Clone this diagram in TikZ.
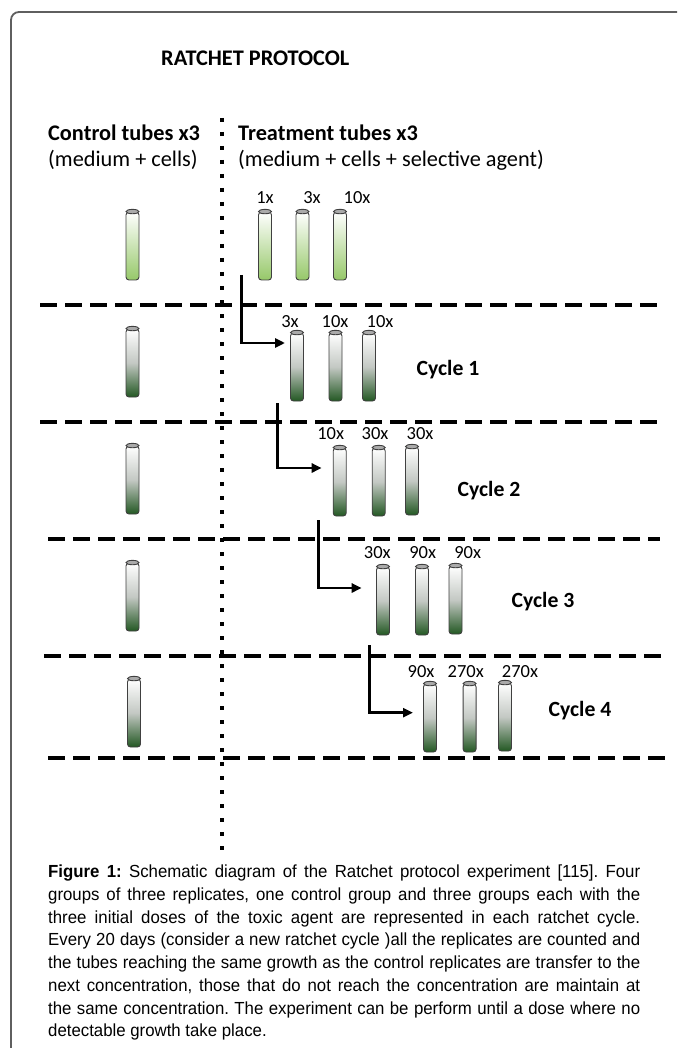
\documentclass[tikz,border=0pt]{standalone}
\usepackage{fontspec}
\setmainfont{Carlito}
\newfontfamily\capfont[FakeStretch=0.96]{Liberation Sans}
\usetikzlibrary{arrows.meta}
\definecolor{framegray}{RGB}{95,95,95}
\definecolor{lightgreen}{RGB}{150,200,105}
\definecolor{darkgreen}{RGB}{35,88,35}
\definecolor{midgray}{RGB}{195,200,195}
\definecolor{capgray}{RGB}{170,170,170}
\tikzset{
  tubebase/.style={draw=black!75, line width=0.9pt, minimum width=13pt, minimum height=68pt, inner sep=0pt, rounded corners=3pt},
  tubelight/.style={tubebase, top color=white, bottom color=lightgreen},
  tubedark/.style={tubebase, top color=white, bottom color=darkgreen, middle color=midgray},
  tubecap/.style={draw=black!75, line width=0.9pt, fill=capgray},
  headb/.style={font=\bfseries\fontsize{22.3}{26}\selectfont, inner sep=0pt, anchor=west},
  headr/.style={font=\fontsize{22.3}{26}\selectfont, inner sep=0pt, anchor=west},
  dose/.style={font=\fontsize{18.5}{20}\selectfont, inner sep=0pt},
  cyclelab/.style={font=\bfseries\fontsize{21.7}{24}\selectfont, inner sep=0pt},
  sepline/.style={line width=4pt, dash pattern=on 17pt off 8pt},
  midline/.style={line width=4pt, dash pattern=on 4pt off 10pt},
  moveto/.style={line width=2.6pt, -{Triangle[length=10pt,width=9pt]}},
  frameline/.style={draw=framegray, line width=1.8pt, rounded corners=8pt}
}
\newcommand\tubeat[4]{%
  \node[#4] (#1) at (#2,#3) {};
  \draw[tubecap] (#1.north) ellipse [x radius=6.5pt, y radius=2.2pt];
}
\begin{document}
\begin{tikzpicture}[x=1pt,y=-1pt]
\useasboundingbox (0,0) rectangle (677,1048);
\fill[white] (0,0) rectangle (677,1048);
% frame
\draw[frameline] (11,1048) -- (11,12) -- (677,12);
% title and headings
\node[headb] (title) at (161,58) {RATCHET PROTOCOL};
\node[headb] (ctl) at (48,133) {Control tubes x3};
\node[headr] (ctl2) at (48,160) {(medium + cells)};
\node[headb] (trt) at (238,133) {Treatment tubes x3};
\node[headr] (trt2) at (238,160) {(medium + cells + selective agent)};
% separators
\coordinate (vtop) at (222,118);
\coordinate (vbot) at (222,850);
\draw[midline] (vtop) -- (vbot);
\coordinate (s1a) at (40,305);  \coordinate (s1b) at (660,305);
\coordinate (s2a) at (40,422);  \coordinate (s2b) at (660,422);
\coordinate (s3a) at (48,539);  \coordinate (s3b) at (660,539);
\coordinate (s4a) at (44,656);  \coordinate (s4b) at (662,656);
\coordinate (s5a) at (48,758);  \coordinate (s5b) at (667,758);
\draw[sepline] (s1a) -- (s1b);
\draw[sepline] (s2a) -- (s2b);
\draw[sepline] (s3a) -- (s3b);
\draw[sepline] (s4a) -- (s4b);
\draw[sepline] (s5a) -- (s5b);
% row 0
\tubeat{c0}{132.5}{246}{tubelight}
\tubeat{t01}{265}{246}{tubelight}
\tubeat{t02}{302.5}{246}{tubelight}
\tubeat{t03}{340}{246}{tubelight}
\node[dose] (d01) at (265,198) {1x};
\node[dose] (d02) at (312,198) {3x};
\node[dose] (d03) at (357,198) {10x};
% row 1
\tubeat{c1}{132.5}{363}{tubedark}
\tubeat{t11}{297}{367}{tubedark}
\tubeat{t12}{335.5}{367}{tubedark}
\tubeat{t13}{369}{367}{tubedark}
\node[dose] (d11) at (290,322) {3x};
\node[dose] (d12) at (335,322) {10x};
\node[dose] (d13) at (380,322) {10x};
\node[cyclelab] (cy1) at (448,370) {Cycle 1};
% row 2
\tubeat{c2}{132.5}{480}{tubedark}
\tubeat{t21}{339.7}{482}{tubedark}
\tubeat{t22}{378.7}{482}{tubedark}
\tubeat{t23}{412}{481}{tubedark}
\node[dose] (d21) at (330.7,434) {10x};
\node[dose] (d22) at (375,434) {30x};
\node[dose] (d23) at (420,434) {30x};
\node[cyclelab] (cy2) at (489,491) {Cycle 2};
% row 3
\tubeat{c3}{132.5}{597}{tubedark}
\tubeat{t31}{383}{601}{tubedark}
\tubeat{t32}{422}{601}{tubedark}
\tubeat{t33}{455.5}{600}{tubedark}
\node[dose] (d31) at (377.3,553) {30x};
\node[dose] (d32) at (422.7,553) {90x};
\node[dose] (d33) at (467.7,553) {90x};
\node[cyclelab] (cy3) at (543,602) {Cycle 3};
% row 4
\tubeat{c4}{134}{713}{tubedark}
\tubeat{t41}{430}{718}{tubedark}
\tubeat{t42}{469.6}{718}{tubedark}
\tubeat{t43}{505}{717}{tubedark}
\node[dose] (d41) at (421,671.7) {90x};
\node[dose] (d42) at (465.7,671.7) {270x};
\node[dose] (d43) at (520,671.7) {270x};
\node[cyclelab] (cy4) at (580,711) {Cycle 4};
% transfer arrows
\coordinate (a1s) at (241.7,275); \coordinate (a1e) at (285,343);
\coordinate (a2s) at (277.7,403); \coordinate (a2e) at (321.7,468);
\coordinate (a3s) at (318.3,520); \coordinate (a3e) at (361.7,588);
\coordinate (a4s) at (369.5,645); \coordinate (a4e) at (413,712.7);
\draw[moveto] (a1s) |- (a1e);
\draw[moveto] (a2s) |- (a2e);
\draw[moveto] (a3s) |- (a3e);
\draw[moveto] (a4s) |- (a4e);
% caption
\node[anchor=north west, inner sep=0pt, text width=592pt, align=justify,
      font=\capfont\fontsize{17.5}{22.7}\selectfont\frenchspacing] (cap) at (48,865)
{\textbf{Figure 1:} Schematic diagram of the Ratchet protocol experiment [115]. Four\linebreak
groups of three replicates, one control group and three groups each with the\linebreak
three initial doses of the toxic agent are represented in each ratchet cycle.\linebreak
Every 20 days (consider a new ratchet cycle )all the replicates are counted and\linebreak
the tubes reaching the same growth as the control replicates are transfer to the\linebreak
next concentration, those that do not reach the concentration are maintain at\linebreak
the same concentration. The experiment can be perform until a dose where no\linebreak
detectable growth take place.};
\end{tikzpicture}
\end{document}
